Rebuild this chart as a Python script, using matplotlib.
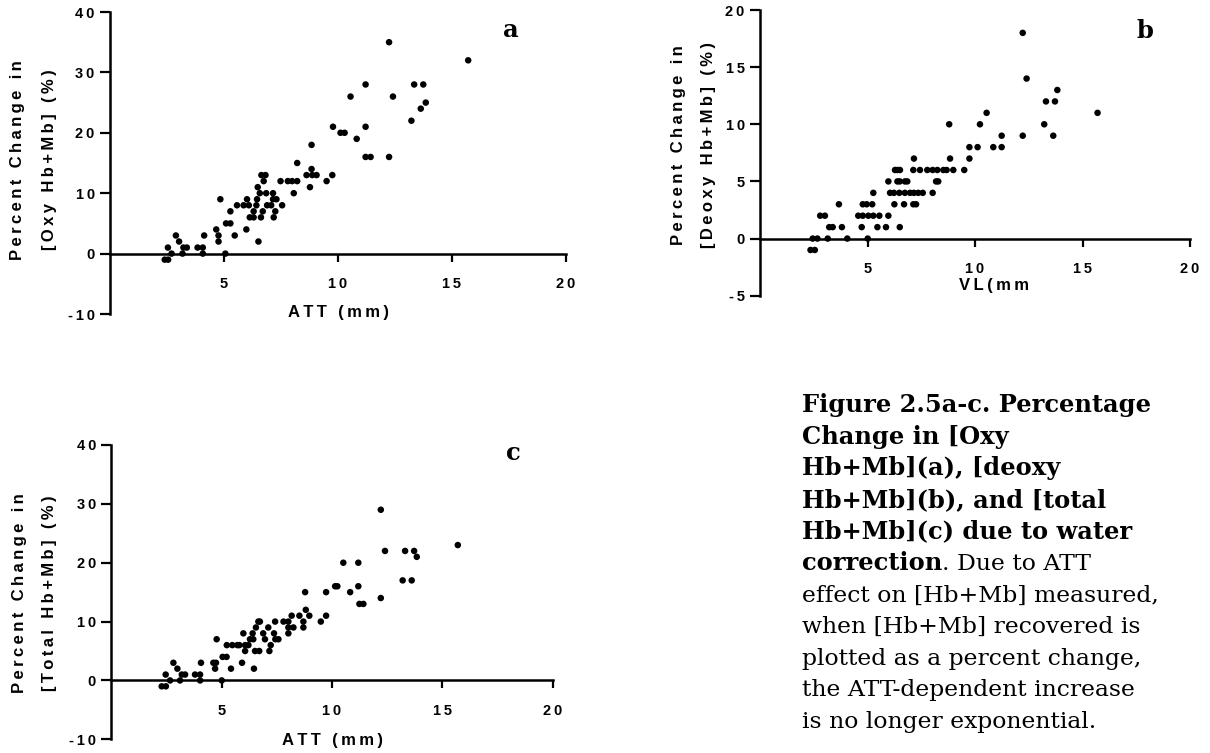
import matplotlib
matplotlib.use("Agg")
import matplotlib.pyplot as plt
from matplotlib.ticker import FuncFormatter

# ---- data ----
# panel a: ATT (mm) vs percent change in [Oxy Hb+Mb]
att_a = [2.40, 2.55, 2.54, 2.70, 2.89, 3.03, 3.18, 3.22, 3.37, 3.84, 4.07, 4.07, 4.13,
         4.66, 4.76, 4.76, 4.84, 5.06, 5.09, 5.28, 5.28, 5.47, 5.57, 5.86, 5.98, 6.01,
         6.09, 6.13, 6.30, 6.30, 6.42, 6.51, 6.45, 6.48, 6.64, 6.82, 6.74, 6.57, 6.85,
         6.62, 6.70, 6.89, 7.07, 7.15, 7.15, 7.18, 7.25, 7.30, 7.55, 7.48, 7.80, 7.99,
         8.21, 8.06, 8.21, 8.62, 8.87, 9.06, 8.84, 8.77, 8.84, 9.50, 9.75, 9.78, 10.11,
         10.29, 10.55, 10.82, 11.21, 11.21, 11.21, 11.43, 12.24, 12.24, 12.41, 13.22,
         13.34, 13.74, 13.63, 13.85, 15.71]
oxy_a = [-1, -1, 1, 0, 3, 2, 0, 1, 1, 1, 1, 0, 3,
         4, 3, 2, 9, 0, 5, 5, 7, 3, 8, 8, 4, 9,
         8, 6, 6, 7, 8, 2, 9, 11, 13, 13, 12, 10, 10,
         6, 7, 8, 8, 10, 9, 6, 7, 9, 8, 12, 12, 12,
         12, 10, 15, 13, 13, 13, 14, 11, 18, 12, 13, 21, 20,
         20, 26, 19, 28, 21, 16, 16, 35, 16, 26, 22,
         28, 28, 24, 25, 32]

# panel b: VL (mm) vs percent change in [Deoxy Hb+Mb]
vl_b = [2.35, 2.55,
        2.45, 2.67, 3.15, 4.06, 5.01,
        3.22, 3.38, 3.81, 4.73, 5.46, 5.86, 6.50,
        2.80, 3.02, 4.57, 4.78, 5.04, 5.27, 5.55, 5.97,
        3.67, 4.78, 4.96, 5.22, 6.25, 6.70, 7.13, 7.26,
        5.27, 6.05, 6.23, 6.48, 6.74, 6.98, 7.16, 7.36, 7.57, 8.03,
        5.97, 6.39, 6.50, 6.74, 6.85, 8.19, 8.29,
        6.28, 6.39, 6.51, 7.13, 7.44, 7.78, 8.03, 8.25, 8.53, 8.68, 8.99, 9.50,
        7.16, 8.84, 9.74,
        9.74, 10.12, 10.85, 11.24,
        11.24, 12.22, 13.64,
        8.80, 10.23, 13.22,
        10.54, 15.70,
        13.30, 13.72,
        13.83,
        12.40,
        12.22]
deoxy_b = [-1, -1,
           0, 0, 0, 0, 0,
           1, 1, 1, 1, 1, 1, 1,
           2, 2, 2, 2, 2, 2, 2, 2,
           3, 3, 3, 3, 3, 3, 3, 3,
           4, 4, 4, 4, 4, 4, 4, 4, 4, 4,
           5, 5, 5, 5, 5, 5, 5,
           6, 6, 6, 6, 6, 6, 6, 6, 6, 6, 6, 6,
           7, 7, 7,
           8, 8, 8, 8,
           9, 9, 9,
           10, 10, 10,
           11, 11,
           12, 12,
           13,
           14,
           18]

# panel c: ATT (mm) vs percent change in [Total Hb+Mb]
att_c = [2.28, 2.47, 2.46, 2.66, 2.81, 2.99, 3.11, 3.19, 3.34, 3.79, 4.02, 4.02, 4.06,
         4.62, 4.74, 4.70, 4.77, 5.00, 5.04, 5.22, 5.23, 5.48, 5.71, 5.42, 5.80, 6.06,
         6.21, 5.92, 5.98, 6.06, 6.28, 6.43, 6.40, 6.55, 6.66, 6.73, 6.46, 6.51, 6.70,
         6.88, 6.96, 7.11, 7.22, 7.16, 7.37, 7.43, 7.57, 7.42, 7.80, 8.02, 8.02, 8.25,
         8.02, 8.17, 8.52, 8.70, 8.70, 8.81, 8.97, 8.78, 9.49, 9.73, 9.73, 10.14, 10.24,
         10.51, 10.82, 11.19, 11.19, 11.24, 11.42, 12.21, 12.21, 12.40, 13.20, 13.31,
         13.61, 13.72, 13.84, 15.70]
total_c = [-1, -1, 1, 0, 3, 2, 0, 1, 1, 1, 1, 0, 3,
           3, 3, 2, 7, 0, 4, 4, 6, 6, 6, 2, 6, 6,
           6, 3, 8, 5, 7, 7, 8, 9, 10, 10, 2, 5, 5,
           8, 7, 9, 6, 5, 8, 7, 7, 10, 10, 10, 9, 9,
           8, 11, 11, 10, 9, 12, 11, 15, 10, 11, 15, 16, 16,
           20, 15, 20, 16, 13, 13, 29, 14, 22, 17, 22,
           17, 22, 21, 23]

x_ticks = [5, 10, 15, 20]

SANS = ["Liberation Sans", "DejaVu Sans"]
SERIF = "DejaVu Serif"
TS = "\u2009"  # thin space used for the wide letter spacing


def spaced(s):
    return TS.join(s)


fig = plt.figure(figsize=(12.1, 7.53), dpi=100)
W, H = 1210.0, 753.0


def make_panel(rect, x, y, yticks, ylim, letter, letter_xy, xlab, xlab_xy, ylab1, ylab2, ylab_px):
    ax = fig.add_axes([rect[0] / W, 1 - rect[3] / H, (rect[2] - rect[0]) / W, (rect[3] - rect[1]) / H])
    ax.scatter(x, y, s=22, color="black", edgecolors="none", zorder=3, clip_on=False)
    ax.set_xlim(0, 20)
    ax.set_ylim(*ylim)
    for side in ["top", "right"]:
        ax.spines[side].set_visible(False)
    ax.spines["bottom"].set_position(("data", 0))
    ax.spines["left"].set_linewidth(1.8)
    ax.spines["bottom"].set_linewidth(1.8)
    ax.set_xticks(x_ticks)
    ax.set_yticks(yticks)
    fmt = FuncFormatter(lambda v, p: spaced(f"{v:g}"))
    ax.xaxis.set_major_formatter(fmt)
    ax.yaxis.set_major_formatter(fmt)
    ax.tick_params(axis="x", direction="out", length=6, width=1.6, pad=11)
    ax.tick_params(axis="y", direction="out", length=7, width=1.6, pad=4)
    for lab in ax.get_xticklabels() + ax.get_yticklabels():
        lab.set_family(SANS)
        lab.set_fontweight("bold")
        lab.set_fontsize(10.5)
    ax.text(letter_xy[0], letter_xy[1], letter, family=SERIF, fontweight="bold",
            fontsize=17.5, ha="center", va="center")
    ax.text(xlab_xy[0], xlab_xy[1], spaced(xlab), family=SANS, fontweight="bold",
            fontsize=12, ha="center", va="center", clip_on=False)
    fig.text(ylab_px[0] / W, 1 - ylab_px[2] / H, spaced(ylab1), family=SANS, fontweight="bold",
             fontsize=12, rotation=90, ha="center", va="center")
    fig.text(ylab_px[1] / W, 1 - ylab_px[2] / H, spaced(ylab2), family=SANS, fontweight="bold",
             fontsize=12, rotation=90, ha="center", va="center")
    return ax


make_panel((110, 12, 566, 314), att_a, oxy_a, [-10, 0, 10, 20, 30, 40], (-10, 40),
           "a", (17.6, 37), "ATT (mm)", (10, -9.8),
           "Percent Change in", "[Oxy Hb+Mb] (%)", (18, 50, 160))
make_panel((760, 10, 1190, 295.7), vl_b, deoxy_b, [-5, 0, 5, 10, 15, 20], (-5, 20),
           "b", (17.9, 18.2), "VL(mm", (10.9, -4.1),
           "Percent Change in", "[Deoxy Hb+Mb] (%)", (678, 708, 145))
make_panel((111.4, 445, 552.7, 739.3), att_c, total_c, [-10, 0, 10, 20, 30, 40], (-10, 40),
           "c", (18.2, 38.6), "ATT (mm)", (10, -10.2),
           "Percent Change in", "[Total Hb+Mb] (%)", (20, 50, 593))

# ---- caption ----
bold_lines = ["Figure 2.5a-c. Percentage", "Change in [Oxy", "Hb+Mb](a), [deoxy",
              "Hb+Mb](b), and [total", "Hb+Mb](c) due to water"]
plain_lines = ["effect on [Hb+Mb] measured,", "when [Hb+Mb] recovered is",
               "plotted as a percent change,", "the ATT-dependent increase",
               "is no longer exponential."]
cap_x = 802 / W
base0 = 412.0
step = 31.6
bold_size = 17.4
plain_size = 16.9

row = 0
for line in bold_lines:
    fig.text(cap_x, 1 - (base0 + row * step) / H, line, family=SERIF, fontweight="bold",
             fontsize=bold_size, ha="left", va="baseline")
    row += 1

t = fig.text(cap_x, 1 - (base0 + row * step) / H, "correction", family=SERIF, fontweight="bold",
             fontsize=bold_size, ha="left", va="baseline")
renderer = fig.canvas.get_renderer()
bb = t.get_window_extent(renderer=renderer)
fig.text(bb.x1 / W, 1 - (base0 + row * step) / H, ". Due to ATT", family=SERIF,
         fontsize=plain_size, ha="left", va="baseline")
row += 1

for line in plain_lines:
    fig.text(cap_x, 1 - (base0 + row * step) / H, line, family=SERIF,
             fontsize=plain_size, ha="left", va="baseline")
    row += 1

fig.savefig("out.png", dpi=100)
